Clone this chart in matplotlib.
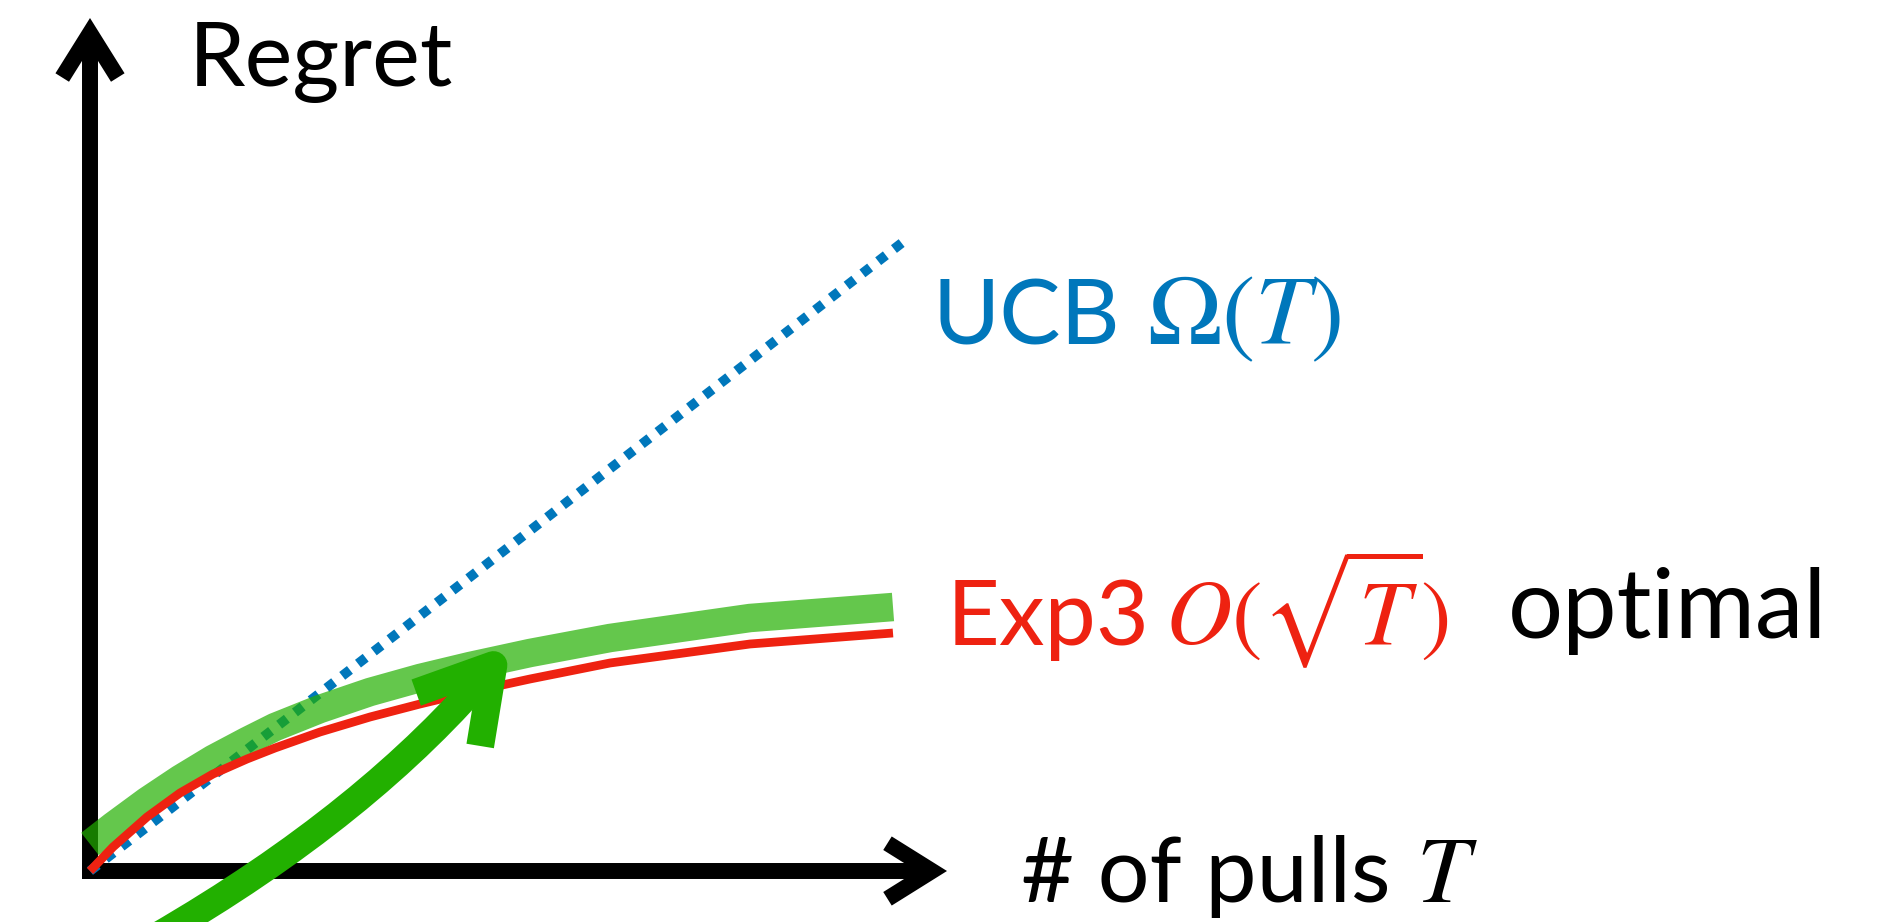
import matplotlib
matplotlib.use("Agg")
import matplotlib.pyplot as plt
from matplotlib.patches import FancyArrowPatch, ArrowStyle
from matplotlib.path import Path

plt.rcParams['mathtext.fontset'] = 'stix'

# ---- data ----
ucb_T = [0.0, 8.13]
ucb_regret = [0.0, 6.29]

curve_T = [0.0, 0.23, 0.57, 0.90, 1.23, 1.57, 1.85, 2.30, 2.80, 3.30, 3.80, 4.40, 5.20, 6.60, 8.03]
exp3_regret = [0.0, 0.24, 0.54, 0.78, 0.97, 1.12, 1.23, 1.39, 1.54, 1.67, 1.79, 1.92, 2.08, 2.27, 2.38]
optimal_regret = [0.27, 0.45, 0.70, 0.92, 1.12, 1.30, 1.44, 1.62, 1.79, 1.93, 2.05, 2.18, 2.33, 2.53, 2.64]

# pointer arrow (annotation) control points: start, control, tip
pointer_T = [0.66, 2.80, 4.21]
pointer_regret = [-0.66, 0.58, 2.27]

# texts
y_label = "Regret"
x_label = "# of pulls"
x_label_math = r"$T$"
ucb_label = "UCB"
ucb_math = r"$\Omega(T)$"
exp3_label = "Exp3"
exp3_math = r"$O(\sqrt{T})$"
optimal_label = "optimal"

BLUE = "#0077BB"
RED = "#EE2211"
GREEN = "#22B000"

fig = plt.figure(figsize=(18.84, 9.22), dpi=100)
ax = fig.add_axes([0, 0, 1, 1])
ax.set_xlim(-0.90, 17.94)
ax.set_ylim(-0.51, 8.71)
ax.axis('off')

# axes arrows
axis_style = ArrowStyle("->", head_length=32, head_width=20)
for start, end in [((0, -0.08), (0, 8.53)), ((-0.08, 0), (8.57, 0))]:
    ax.add_patch(FancyArrowPatch(start, end, arrowstyle=axis_style, mutation_scale=1,
                                 lw=11.5, color='black', capstyle='butt', joinstyle='miter',
                                 shrinkA=0, shrinkB=0, zorder=1))

# curves
ax.plot(ucb_T, ucb_regret, color=BLUE, lw=7, linestyle=(0, (1.0, 1.05)),
        dash_capstyle='butt', zorder=2)
ax.plot(curve_T, optimal_regret, color=GREEN, alpha=0.7, lw=20.5,
        solid_capstyle='butt', solid_joinstyle='round', zorder=3)
ax.plot(curve_T, exp3_regret, color=RED, lw=6.3,
        solid_capstyle='butt', solid_joinstyle='round', zorder=4)

# green pointer arrow
ptr_path = Path(list(zip(pointer_T, pointer_regret)), [Path.MOVETO, Path.CURVE3, Path.CURVE3])
ax.add_patch(FancyArrowPatch(path=ptr_path, arrowstyle=ArrowStyle("->", head_length=50.9, head_width=30),
                             mutation_scale=1, lw=20, color=GREEN, capstyle='butt',
                             joinstyle='round', transform=ax.transData, zorder=5))

FS = 66
ax.text(0.99, 7.85, y_label, fontsize=65, family='Lato', color='black', va='baseline', ha='left')
ax.text(8.42, 5.27, ucb_label, fontsize=FS, family='Lato', color=BLUE, va='baseline', ha='left')
ax.text(10.57, 5.27, ucb_math, fontsize=72, color=BLUE, va='baseline', ha='left')
ax.text(8.57, 2.26, exp3_label, fontsize=FS, family='Lato', color=RED, va='baseline', ha='left')
ax.text(10.75, 2.26, exp3_math, fontsize=66, color=RED, va='baseline', ha='left')
ax.text(14.18, 2.33, optimal_label, fontsize=70, family='Lato', color='black', va='baseline', ha='left')
ax.text(9.31, -0.31, x_label, fontsize=FS, family='Lato', color='black', va='baseline', ha='left')
ax.text(13.26, -0.31, x_label_math, fontsize=68, color='black', va='baseline', ha='left')

fig.savefig("out.png", dpi=100)
